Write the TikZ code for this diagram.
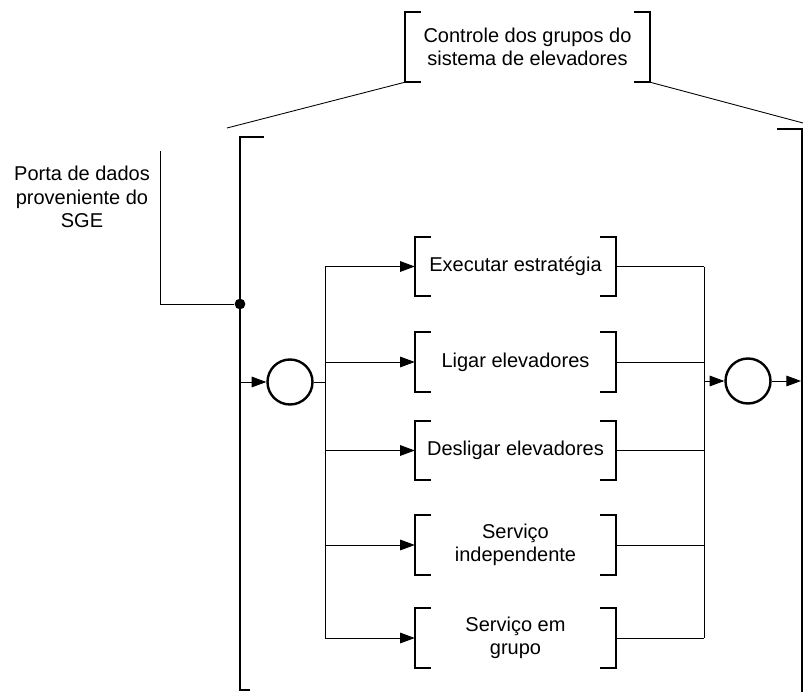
\documentclass[tikz,border=0pt]{standalone}
\usepackage{fontspec}
\setmainfont{Liberation Sans}
\usetikzlibrary{arrows.meta, positioning, calc}

% brackets round a node: [ on the west side, ] on the east side
\newcommand{\colchetes}[2][12pt]{%
  \draw[colch] ([xshift=#1]#2.north west) -- (#2.north west) -- (#2.south west) -- ([xshift=#1]#2.south west);
  \draw[colch] ([xshift=-#1]#2.north east) -- (#2.north east) -- (#2.south east) -- ([xshift=-#1]#2.south east);}

\begin{document}
\begin{tikzpicture}[
  x=0.75pt, y=-0.75pt,
  texto/.style={align=center, font=\fontsize{15}{17.5}\selectfont},
  tarefa/.style={texto, inner sep=0pt, minimum width=150.75pt, minimum height=44.25pt},
  colch/.style={line width=1.8pt},
  fio/.style={line width=0.65pt},
  arr/.style={fio, -{Triangle[length=11pt, width=8pt]}},
  junta/.style={circle, draw, line width=1.8pt, minimum size=33.75pt, inner sep=0pt},
  ponto/.style={circle, fill, inner sep=0pt, minimum size=8pt}
]
\useasboundingbox (0,0) rectangle (804,692);

% top block
\node[tarefa, minimum width=183.75pt, minimum height=52.5pt] (ctrl) at (527.5,47)
  {Controle dos grupos do\\sistema de elevadores};
\colchetes{ctrl}
\coordinate (esqtopo) at (227,128);
\coordinate (dirtopo) at (803,123);
\draw[fio] (ctrl.south west) -- (esqtopo);
\draw[fio] (ctrl.south east) -- (dirtopo);

% big bracket
\draw[colch] (264,137) -- (240,137) -- (240,690) -- (250,690);
\draw[colch] (777,129) -- (802,129) -- (802,693);

% data port
\node[texto] (sge) at (82,197) {Porta de dados\\proveniente do\\SGE};
\node[ponto] (porto) at (240,304) {};
\coordinate (canto) at (160,304);
\coordinate (topo) at (160,151);
\draw[fio] (porto) -- (canto) -- (topo);

% tasks
\node[tarefa] (exec)  at (515.5,266.5) {Executar estratégia};
\node[tarefa] (ligar) at (515.5,362)   {Ligar elevadores};
\node[tarefa] (desl)  at (515.5,450.5) {Desligar elevadores};
\node[tarefa] (ind)   at (515.5,545)   {Serviço\\independente};
\node[tarefa] (grupo) at (515.5,638)   {Serviço em\\grupo};
\foreach \t in {exec,ligar,desl,ind,grupo}{\colchetes{\t}}

% junctions
\node[junta] (cin)  at (290,382) {};
\node[junta] (cout) at (748,381) {};
\coordinate (entrada) at (240,382);
\coordinate (ramo)    at (325,382);
\coordinate (coleta)  at (704,381);
\coordinate (saida)   at (801,381);

\draw[arr] (entrada) -- (cin);
\draw[fio] (cin) -- (ramo);
\draw[fio] (exec -| ramo) -- (grupo -| ramo);
\foreach \t in {exec,ligar,desl,ind,grupo}
  \draw[arr] (\t -| ramo) -- (\t.west);

\foreach \t in {exec,ligar,desl,ind,grupo}
  \draw[fio] (\t.east) -- (\t -| coleta);
\draw[fio] (exec -| coleta) -- (grupo -| coleta);
\draw[arr] (coleta) -- (cout);
\draw[arr] (cout) -- (saida);
\end{tikzpicture}
\end{document}
